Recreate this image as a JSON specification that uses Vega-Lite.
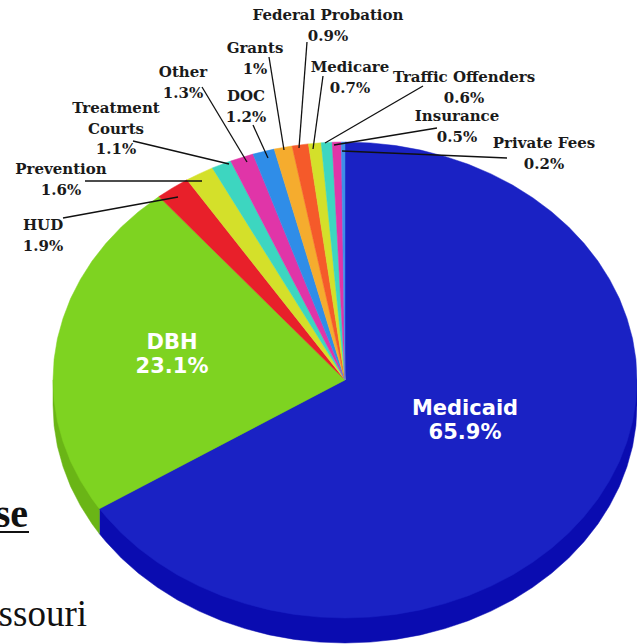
{"$schema":"https://vega.github.io/schema/vega-lite/v6.json","width":637,"height":644,"padding":0,"autosize":{"type":"none"},"background":"white","view":{"stroke":null},
"datasets":{"faces":[
{"slice":"Medicaid side","i":0,"x":637,"y":380},{"slice":"Medicaid side","i":1,"x":637,"y":405},{"slice":"Medicaid side","i":2,"x":635.9,"y":425.8},{"slice":"Medicaid side","i":3,"x":632.6,"y":446.3},{"slice":"Medicaid side","i":4,"x":627,"y":466.6},{"slice":"Medicaid side","i":5,"x":619.4,"y":486.4},{"slice":"Medicaid side","i":6,"x":609.6,"y":505.6},{"slice":"Medicaid side","i":7,"x":597.9,"y":524},{"slice":"Medicaid side","i":8,"x":584.2,"y":541.5},{"slice":"Medicaid side","i":9,"x":568.7,"y":558},{"slice":"Medicaid side","i":10,"x":551.5,"y":573.3},{"slice":"Medicaid side","i":11,"x":532.7,"y":587.3},{"slice":"Medicaid side","i":12,"x":512.5,"y":600},{"slice":"Medicaid side","i":13,"x":491,"y":611.1},{"slice":"Medicaid side","i":14,"x":468.4,"y":620.7},{"slice":"Medicaid side","i":15,"x":444.9,"y":628.6},{"slice":"Medicaid side","i":16,"x":420.6,"y":634.9},{"slice":"Medicaid side","i":17,"x":395.7,"y":639.4},{"slice":"Medicaid side","i":18,"x":370.5,"y":642.1},{"slice":"Medicaid side","i":19,"x":345,"y":643},{"slice":"Medicaid side","i":20,"x":319.5,"y":642.1},{"slice":"Medicaid side","i":21,"x":294.3,"y":639.4},{"slice":"Medicaid side","i":22,"x":269.4,"y":634.9},{"slice":"Medicaid side","i":23,"x":245.1,"y":628.6},{"slice":"Medicaid side","i":24,"x":221.6,"y":620.7},{"slice":"Medicaid side","i":25,"x":199,"y":611.1},{"slice":"Medicaid side","i":26,"x":177.5,"y":600},{"slice":"Medicaid side","i":27,"x":157.3,"y":587.3},{"slice":"Medicaid side","i":28,"x":138.5,"y":573.3},{"slice":"Medicaid side","i":29,"x":121.3,"y":558},{"slice":"Medicaid side","i":30,"x":105.8,"y":541.5},{"slice":"Medicaid side","i":31,"x":99.4,"y":533.8},{"slice":"Medicaid side","i":32,"x":99.4,"y":508.8},{"slice":"Medicaid side","i":33,"x":345,"y":380},
{"slice":"DBH side","i":0,"x":99.4,"y":508.8},{"slice":"DBH side","i":1,"x":99.4,"y":533.8},{"slice":"DBH side","i":2,"x":92.1,"y":524},{"slice":"DBH side","i":3,"x":80.4,"y":505.6},{"slice":"DBH side","i":4,"x":70.6,"y":486.4},{"slice":"DBH side","i":5,"x":63,"y":466.6},{"slice":"DBH side","i":6,"x":57.4,"y":446.3},{"slice":"DBH side","i":7,"x":54.1,"y":425.8},{"slice":"DBH side","i":8,"x":53,"y":405},{"slice":"DBH side","i":9,"x":53,"y":380},{"slice":"DBH side","i":10,"x":345,"y":380},
{"slice":"Medicaid","i":0,"x":345,"y":380},{"slice":"Medicaid","i":1,"x":345,"y":142},{"slice":"Medicaid","i":2,"x":370.5,"y":142.9},{"slice":"Medicaid","i":3,"x":395.7,"y":145.6},{"slice":"Medicaid","i":4,"x":420.6,"y":150.1},{"slice":"Medicaid","i":5,"x":444.9,"y":156.4},{"slice":"Medicaid","i":6,"x":468.4,"y":164.3},{"slice":"Medicaid","i":7,"x":491,"y":173.9},{"slice":"Medicaid","i":8,"x":512.5,"y":185},{"slice":"Medicaid","i":9,"x":532.7,"y":197.7},{"slice":"Medicaid","i":10,"x":551.5,"y":211.7},{"slice":"Medicaid","i":11,"x":568.7,"y":227},{"slice":"Medicaid","i":12,"x":584.2,"y":243.5},{"slice":"Medicaid","i":13,"x":597.9,"y":261},{"slice":"Medicaid","i":14,"x":609.6,"y":279.4},{"slice":"Medicaid","i":15,"x":619.4,"y":298.6},{"slice":"Medicaid","i":16,"x":627,"y":318.4},{"slice":"Medicaid","i":17,"x":632.6,"y":338.7},{"slice":"Medicaid","i":18,"x":635.9,"y":359.2},{"slice":"Medicaid","i":19,"x":637,"y":380},{"slice":"Medicaid","i":20,"x":635.9,"y":400.8},{"slice":"Medicaid","i":21,"x":632.6,"y":421.3},{"slice":"Medicaid","i":22,"x":627,"y":441.6},{"slice":"Medicaid","i":23,"x":619.4,"y":461.4},{"slice":"Medicaid","i":24,"x":609.6,"y":480.6},{"slice":"Medicaid","i":25,"x":597.9,"y":499},{"slice":"Medicaid","i":26,"x":584.2,"y":516.5},{"slice":"Medicaid","i":27,"x":568.7,"y":533},{"slice":"Medicaid","i":28,"x":551.5,"y":548.3},{"slice":"Medicaid","i":29,"x":532.7,"y":562.3},{"slice":"Medicaid","i":30,"x":512.5,"y":575},{"slice":"Medicaid","i":31,"x":491,"y":586.1},{"slice":"Medicaid","i":32,"x":468.4,"y":595.7},{"slice":"Medicaid","i":33,"x":444.9,"y":603.6},{"slice":"Medicaid","i":34,"x":420.6,"y":609.9},{"slice":"Medicaid","i":35,"x":395.7,"y":614.4},{"slice":"Medicaid","i":36,"x":370.5,"y":617.1},{"slice":"Medicaid","i":37,"x":345,"y":618},{"slice":"Medicaid","i":38,"x":319.5,"y":617.1},{"slice":"Medicaid","i":39,"x":294.3,"y":614.4},{"slice":"Medicaid","i":40,"x":269.4,"y":609.9},{"slice":"Medicaid","i":41,"x":245.1,"y":603.6},{"slice":"Medicaid","i":42,"x":221.6,"y":595.7},{"slice":"Medicaid","i":43,"x":199,"y":586.1},{"slice":"Medicaid","i":44,"x":177.5,"y":575},{"slice":"Medicaid","i":45,"x":157.3,"y":562.3},{"slice":"Medicaid","i":46,"x":138.5,"y":548.3},{"slice":"Medicaid","i":47,"x":121.3,"y":533},{"slice":"Medicaid","i":48,"x":105.8,"y":516.5},{"slice":"Medicaid","i":49,"x":99.4,"y":508.8},
{"slice":"DBH","i":0,"x":345,"y":380},{"slice":"DBH","i":1,"x":99.4,"y":508.8},{"slice":"DBH","i":2,"x":92.1,"y":499},{"slice":"DBH","i":3,"x":80.4,"y":480.6},{"slice":"DBH","i":4,"x":70.6,"y":461.4},{"slice":"DBH","i":5,"x":63,"y":441.6},{"slice":"DBH","i":6,"x":57.4,"y":421.3},{"slice":"DBH","i":7,"x":54.1,"y":400.8},{"slice":"DBH","i":8,"x":53,"y":380},{"slice":"DBH","i":9,"x":54.1,"y":359.2},{"slice":"DBH","i":10,"x":57.4,"y":338.7},{"slice":"DBH","i":11,"x":63,"y":318.4},{"slice":"DBH","i":12,"x":70.6,"y":298.6},{"slice":"DBH","i":13,"x":80.4,"y":279.4},{"slice":"DBH","i":14,"x":92.1,"y":261},{"slice":"DBH","i":15,"x":105.8,"y":243.5},{"slice":"DBH","i":16,"x":121.3,"y":227},{"slice":"DBH","i":17,"x":138.5,"y":211.7},{"slice":"DBH","i":18,"x":158.9,"y":196.6},
{"slice":"HUD","i":0,"x":345,"y":380},{"slice":"HUD","i":1,"x":158.9,"y":196.6},{"slice":"HUD","i":2,"x":172.5,"y":187.9},{"slice":"HUD","i":3,"x":187,"y":179.8},
{"slice":"Prevention","i":0,"x":345,"y":380},{"slice":"Prevention","i":1,"x":187,"y":179.8},{"slice":"Prevention","i":2,"x":199,"y":173.9},{"slice":"Prevention","i":3,"x":212.4,"y":167.9},
{"slice":"Treatment Courts","i":0,"x":345,"y":380},{"slice":"Treatment Courts","i":1,"x":212.4,"y":167.9},{"slice":"Treatment Courts","i":2,"x":230.7,"y":161},
{"slice":"Other","i":0,"x":345,"y":380},{"slice":"Other","i":1,"x":230.7,"y":161},{"slice":"Other","i":2,"x":253,"y":154.1},
{"slice":"DOC","i":0,"x":345,"y":380},{"slice":"DOC","i":1,"x":253,"y":154.1},{"slice":"DOC","i":2,"x":274.2,"y":149.1},
{"slice":"Grants","i":0,"x":345,"y":380},{"slice":"Grants","i":1,"x":274.2,"y":149.1},{"slice":"Grants","i":2,"x":292.1,"y":146},
{"slice":"Federal Probation","i":0,"x":345,"y":380},{"slice":"Federal Probation","i":1,"x":292.1,"y":146},{"slice":"Federal Probation","i":2,"x":308.4,"y":143.9},
{"slice":"Medicare","i":0,"x":345,"y":380},{"slice":"Medicare","i":1,"x":308.4,"y":143.9},{"slice":"Medicare","i":2,"x":321.2,"y":142.8},
{"slice":"Traffic Offenders","i":0,"x":345,"y":380},{"slice":"Traffic Offenders","i":1,"x":321.2,"y":142.8},{"slice":"Traffic Offenders","i":2,"x":332.2,"y":142.2},
{"slice":"Insurance","i":0,"x":345,"y":380},{"slice":"Insurance","i":1,"x":332.2,"y":142.2},{"slice":"Insurance","i":2,"x":341.3,"y":142},
{"slice":"Private Fees","i":0,"x":345,"y":380},{"slice":"Private Fees","i":1,"x":341.3,"y":142},{"slice":"Private Fees","i":2,"x":345,"y":142}
],
"leaders":[
{"x":63,"y":218,"x2":178,"y2":197},{"x":85,"y":181,"x2":202,"y2":181},{"x":133,"y":141,"x2":229,"y2":164},{"x":202,"y":87,"x2":247,"y2":162},{"x":253,"y":125,"x2":268,"y2":158},{"x":269,"y":57,"x2":284,"y2":150},{"x":307,"y":42,"x2":299,"y2":148},{"x":323,"y":76,"x2":313,"y2":149},{"x":423,"y":86,"x2":325,"y2":143},{"x":437,"y":128,"x2":334,"y2":145},{"x":507,"y":158,"x2":342,"y2":151}
],
"labels":[
{"t":"Federal Probation\n0.9%","x":328,"y":15},{"t":"Grants\n1%","x":255,"y":48},{"t":"Other\n1.3%","x":183,"y":72},{"t":"DOC\n1.2%","x":246,"y":96},{"t":"Medicare\n0.7%","x":350,"y":67},{"t":"Traffic Offenders\n0.6%","x":464,"y":77},{"t":"Insurance\n0.5%","x":457,"y":116},{"t":"Private Fees\n0.2%","x":544,"y":143},{"t":"Treatment\nCourts\n1.1%","x":116,"y":108},{"t":"Prevention\n1.6%","x":61,"y":169},{"t":"HUD\n1.9%","x":43,"y":225}
],
"inner":[{"t":"DBH\n23.1%","x":172,"y":343},{"t":"Medicaid\n65.9%","x":465,"y":409}]
},
"layer":[
{"data":{"name":"faces"},"mark":{"type":"line","filled":true,"interpolate":"linear-closed","strokeWidth":0.5},
"encoding":{"x":{"field":"x","type":"quantitative","scale":{"domain":[0,637],"nice":false,"zero":false},"axis":null},"y":{"field":"y","type":"quantitative","scale":{"domain":[0,644],"nice":false,"zero":false,"reverse":true},"axis":null},"order":{"field":"i","type":"quantitative"},
"fill":{"field":"slice","type":"nominal","sort":null,"legend":null,"scale":{"domain":["Medicaid side","DBH side","Medicaid","DBH","HUD","Prevention","Treatment Courts","Other","DOC","Grants","Federal Probation","Medicare","Traffic Offenders","Insurance","Private Fees"],"range":["#0a0cb0","#6ab516","#1a22c4","#7ed321","#e8202a","#d4e02a","#3dd6c0","#e035a8","#2f8de8","#f5ac2e","#f55a2a","#d4e02a","#3dd6c0","#e035a8","#3f8fe8"]}},
"stroke":{"field":"slice","type":"nominal","sort":null,"legend":null,"scale":{"domain":["Medicaid side","DBH side","Medicaid","DBH","HUD","Prevention","Treatment Courts","Other","DOC","Grants","Federal Probation","Medicare","Traffic Offenders","Insurance","Private Fees"],"range":["#0a0cb0","#6ab516","#1a22c4","#7ed321","#e8202a","#d4e02a","#3dd6c0","#e035a8","#2f8de8","#f5ac2e","#f55a2a","#d4e02a","#3dd6c0","#e035a8","#3f8fe8"]}}}},
{"data":{"name":"leaders"},"mark":{"type":"rule","color":"#111111","strokeWidth":1.3},"encoding":{"x":{"field":"x","type":"quantitative"},"y":{"field":"y","type":"quantitative"},"x2":{"field":"x2"},"y2":{"field":"y2"}}},
{"data":{"name":"labels"},"mark":{"type":"text","font":"DejaVu Serif","fontWeight":"bold","fontSize":15,"color":"#1a1a1a","lineBreak":"\n","lineHeight":20.5,"baseline":"middle","align":"center"},"encoding":{"x":{"field":"x","type":"quantitative"},"y":{"field":"y","type":"quantitative"},"text":{"field":"t"}}},
{"data":{"name":"inner"},"mark":{"type":"text","font":"DejaVu Sans","fontWeight":"bold","fontSize":21,"color":"white","lineBreak":"\n","lineHeight":24,"baseline":"middle","align":"center"},"encoding":{"x":{"field":"x","type":"quantitative"},"y":{"field":"y","type":"quantitative"},"text":{"field":"t"}}},
{"data":{"values":[{"t":"se","x":28,"y":527}]},"mark":{"type":"text","font":"Liberation Serif","fontWeight":"bold","fontSize":40,"color":"#111111","align":"right","baseline":"alphabetic"},"encoding":{"x":{"field":"x","type":"quantitative"},"y":{"field":"y","type":"quantitative"},"text":{"field":"t"}}},
{"data":{"values":[{"x":0,"x2":29,"y":532}]},"mark":{"type":"rule","color":"#111111","strokeWidth":2},"encoding":{"x":{"field":"x","type":"quantitative"},"x2":{"field":"x2"},"y":{"field":"y","type":"quantitative"}}},
{"data":{"values":[{"t":"ssouri","x":87,"y":626}]},"mark":{"type":"text","font":"Liberation Serif","fontSize":37,"color":"#111111","align":"right","baseline":"alphabetic"},"encoding":{"x":{"field":"x","type":"quantitative"},"y":{"field":"y","type":"quantitative"},"text":{"field":"t"}}}
]}
